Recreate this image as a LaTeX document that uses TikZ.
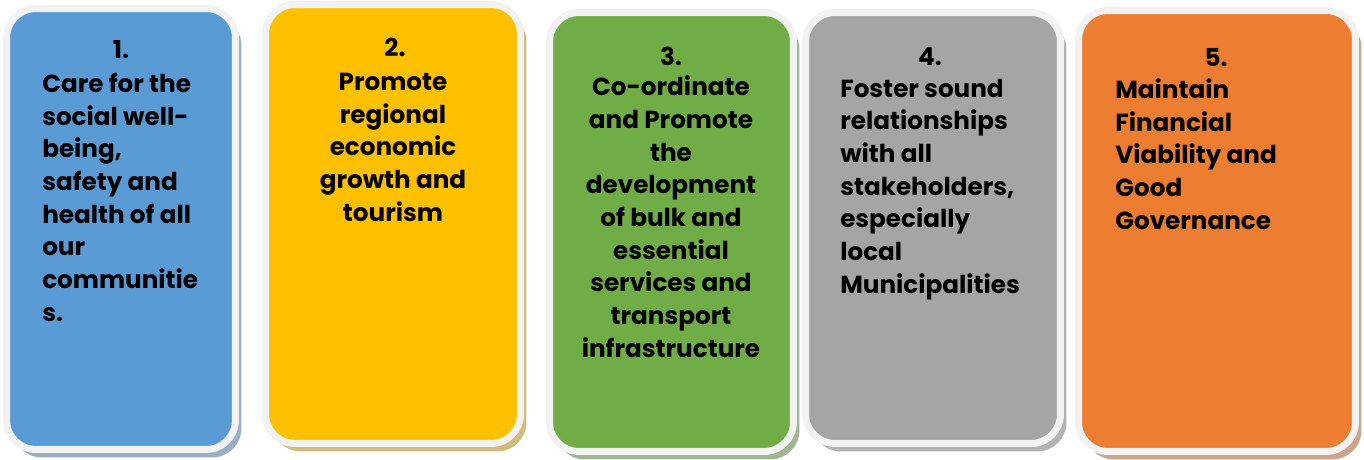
\documentclass[tikz,border=0pt]{standalone}
\usepackage{fontspec}
\setmainfont{Poppins}
\usetikzlibrary{positioning, fit, shadows}
\definecolor{goalblue}{HTML}{5B9BD5}
\definecolor{goalyellow}{HTML}{FFC000}
\definecolor{goalgreen}{HTML}{70AD47}
\definecolor{goalgrey}{HTML}{A5A5A5}
\definecolor{goalorange}{HTML}{ED7D31}
\definecolor{rim}{HTML}{F2F2F2}
\tikzset{
  x=0.75pt, y=-0.75pt,
  goalbox/.style={draw=rim, line width=5.25pt, rounded corners=22pt,
    inner sep=2.6pt, fill=#1,
    drop shadow={shadow xshift=4.5pt, shadow yshift=-6pt, opacity=1,
      fill=#1!50!gray!70}},
  numlabel/.style={anchor=base, inner sep=0pt,
    font=\fontsize{18.5pt}{24.5pt}\selectfont\bfseries},
  goaltext/.style={inner sep=0pt, align=left,
    font=\fontsize{18.5pt}{24.5pt}\selectfont\bfseries},
}

\begin{document}
\begin{tikzpicture}
  \useasboundingbox (0,0) rectangle (1364,460);

  \node[goalbox=goalblue, fit={(10,12) (232,446)}] (g1) {};
  \node[goalbox=goalyellow, fit={(269,8) (517,440)}] (g2) {};
  \node[goalbox=goalgreen, fit={(553,16) (790,448)}] (g3) {};
  \node[goalbox=goalgrey, fit={(809,16) (1057,440)}] (g4) {};
  \node[goalbox=goalorange, fit={(1082,14) (1352,448)}] (g5) {};

  \node[numlabel] (n1) at (121,59) {1.};
  \node[numlabel] (n2) at (395,57) {2.};
  \node[numlabel] (n3) at (671,65) {3.};
  \node[numlabel] (n4) at (930,65) {4.};
  \node[numlabel] (n5) at (1216,67) {5.};

  % anchored on the baseline of the last line
  \node[goaltext, anchor=base west] (t1) at (42,321)
    {Care for the\\social well-\\being,\\safety and\\health of all\\our\\communitie\\s.};
  \node[goaltext, align=center, anchor=base] (t2) at (393,221)
    {Promote\\regional\\economic\\growth and\\tourism};
  \node[goaltext, align=center, anchor=base] (t3) at (671,357)
    {Co-ordinate\\and Promote\\the\\development\\of bulk and\\essential\\services and\\transport\\infrastructure};
  \node[goaltext, anchor=base west] (t4) at (840,293)
    {Foster sound\\relationships\\with all\\stakeholders,\\especially\\local\\Municipalities};
  \node[goaltext, anchor=base west] (t5) at (1115,229)
    {Maintain\\Financial\\Viability and\\Good\\Governance};
\end{tikzpicture}
\end{document}
